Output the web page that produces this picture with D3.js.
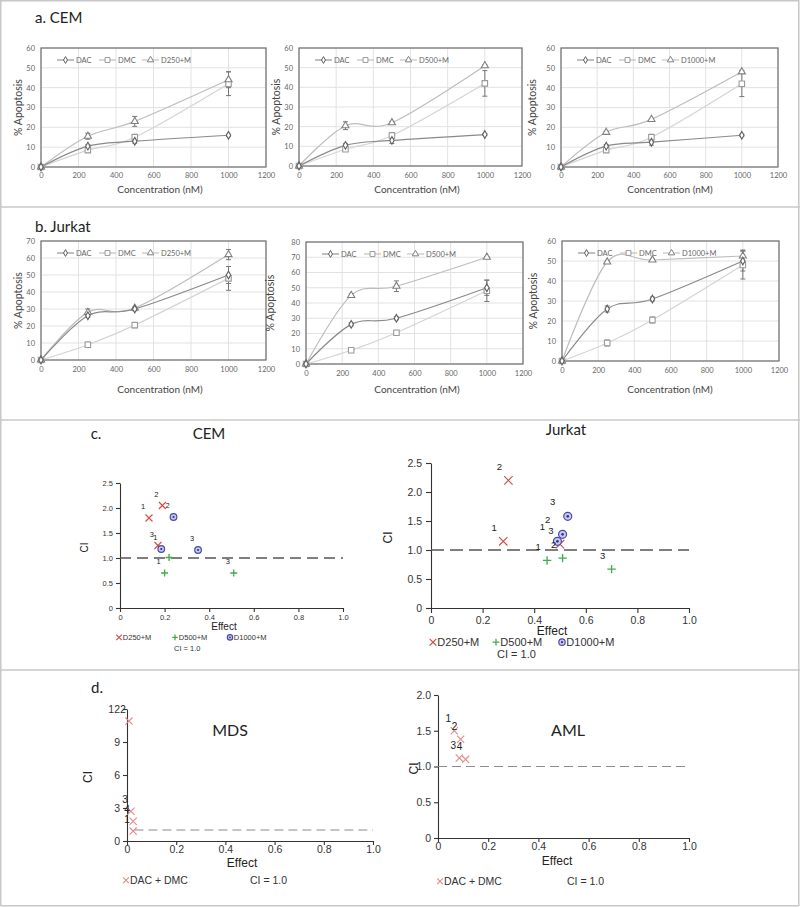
<!DOCTYPE html>
<html><head><meta charset="utf-8">
<script src="https://cdn.jsdelivr.net/npm/d3@7"></script>
<style>body{margin:0;background:#fff}</style>
</head><body>
<svg id="chart" width="800" height="907"></svg>
<script>
// ---------- DATA ----------
const concentrations = [0, 250, 500, 1000];
const concTicks = [0, 200, 400, 600, 800, 1000, 1200];

// a. CEM
const cemA_DAC = [0, 10.5, 13, 16],   cemA_DACerr = [0, 0.8, 1, 0.5];
const cemA_DMC = [0, 8.5, 15, 42],    cemA_DMCerr = [0, 1, 1.5, 6];
const cemA_D250 = [0, 15.5, 23, 44],  cemA_D250err = [0, 1.5, 2.5, 4];
const cemB_DAC = [0, 10.5, 13, 16],   cemB_DACerr = [0, 0.8, 1.5, 0.5];
const cemB_DMC = [0, 8.5, 15.5, 42],  cemB_DMCerr = [0, 1, 1.5, 6.5];
const cemB_D500 = [0, 20.5, 22, 51],  cemB_D500err = [0, 2, 0.5, 0.5];
const cemC_DAC = [0, 10.5, 12.5, 16], cemC_DACerr = [0, 0.8, 1.5, 0.5];
const cemC_DMC = [0, 8.5, 15, 42],    cemC_DMCerr = [0, 1, 1.5, 6.5];
const cemC_D1000 = [0, 17.5, 24, 48], cemC_D1000err = [0, 0.5, 0.5, 0.5];
// b. Jurkat
const jurA_DAC = [0, 26, 30, 50],     jurA_DACerr = [0, 1, 1, 5];
const jurA_DMC = [0, 9, 20.5, 48],    jurA_DMCerr = [0, 1.5, 1.5, 7];
const jurA_D250 = [0, 28, 30.5, 62],  jurA_D250err = [0, 2, 0.5, 3];
const jurB_DAC = [0, 26, 30, 50],     jurB_DACerr = [0, 1, 1, 5];
const jurB_DMC = [0, 9, 20.5, 48],    jurB_DMCerr = [0, 1.5, 1.5, 7];
const jurB_D500 = [0, 45, 51, 70],    jurB_D500err = [0, 1, 3.5, 0.5];
const jurC_DAC = [0, 26, 31, 50],     jurC_DACerr = [0, 1.5, 1, 5];
const jurC_DMC = [0, 9, 20.5, 48],    jurC_DMCerr = [0, 1.5, 1.5, 7];
const jurC_D1000 = [0, 49.5, 50.5, 52.5], jurC_D1000err = [0, 0.5, 0.5, 3];

// c. combination index (effect, CI, label)
const cemCI_D250 = [[0.13, 1.8, "1"], [0.19, 2.05, "2"], [0.17, 1.25, "3"]];
const cemCI_D500 = [[0.20, 0.70, "1"], [0.22, 1.01, ""], [0.51, 0.70, "3"]];
const cemCI_D1000 = [[0.185, 1.18, "1"], [0.24, 1.82, "2"], [0.35, 1.16, "3"]];
const jurCI_D250 = [[0.28, 1.15, "1"], [0.30, 2.2, "2"], [0.50, 1.1, "3"]];
const jurCI_D500 = [[0.45, 0.82, "1"], [0.51, 0.86, "2"], [0.70, 0.67, "3"]];
const jurCI_D1000 = [[0.49, 1.15, "1"], [0.51, 1.27, "2"], [0.53, 1.58, "3"]];
// d.
const mdsCI = [[0.008, 10.9, "2"], [0.016, 2.7, "3"], [0.025, 1.8, "4"], [0.025, 0.9, "1"]];
const amlCI = [[0.065, 1.5, "1"], [0.09, 1.38, "2"], [0.085, 1.12, "3"], [0.11, 1.1, "4"]];
const effectTicks = [0, 0.2, 0.4, 0.6, 0.8, 1.0];
const ciTicks = [0, 0.5, 1.0, 1.5, 2.0, 2.5];
const mdsTicks = [0, 3, 6, 9, 12];
const amlTicks = [0, 0.5, 1.0, 1.5, 2.0];

// ---------- DRAWING ----------
const svg = d3.select("#chart");
const LF = "Lato, 'Open Sans', sans-serif";
const AF = "'Liberation Sans', Arial, sans-serif";

svg.append("rect").attr("x", 0.75).attr("y", 0.75).attr("width", 798).attr("height", 905)
  .attr("fill", "none").attr("stroke", "#c8c8c8").attr("stroke-width", 1.5);
[207, 420, 670].forEach(yy => svg.append("line").attr("x1", 0).attr("x2", 800)
  .attr("y1", yy).attr("y2", yy).attr("stroke", "#c8c8c8").attr("stroke-width", 1.5));

function txt(x, y, s, o = {}) {
  const t = svg.append("text").attr("x", x).attr("y", y).text(s)
    .attr("font-family", o.f || LF).attr("font-size", o.size || 10)
    .attr("fill", o.fill || "#333").attr("text-anchor", o.anchor || "middle");
  if (o.rot) t.attr("transform", `rotate(-90,${x},${y})`);
  return t;
}

txt(35, 23, "a. CEM", { size: 15, anchor: "start", fill: "#222" });
txt(35, 232, "b. Jurkat", { size: 15, anchor: "start", fill: "#222" });

const styles = {
  DAC: { line: "#8a8a8a", mark: "#5e5e5e", sym: d3.symbolDiamond, size: 17 },
  DMC: { line: "#d4d4d4", mark: "#9a9a9a", sym: d3.symbolSquare, size: 30 },
  C:   { line: "#bdbdbd", mark: "#808080", sym: d3.symbolTriangle, size: 22 }
};

function linePanel(p) {
  const g = svg.append("g");
  const x = d3.scaleLinear().domain([0, 1200]).range([p.x0, p.x1]);
  const y = d3.scaleLinear().domain([0, p.ymax]).range([p.yb, p.yt]);
  const yTicks = d3.range(0, p.ymax + 1, 10);
  g.selectAll(".vg").data(concTicks).join("line").attr("x1", d => x(d)).attr("x2", d => x(d))
    .attr("y1", p.yb).attr("y2", p.yt).attr("stroke", "#e2e2e2");
  g.selectAll(".hg").data(yTicks).join("line").attr("y1", d => y(d)).attr("y2", d => y(d))
    .attr("x1", p.x0).attr("x2", p.x1).attr("stroke", "#e2e2e2");
  g.append("rect").attr("x", p.x0).attr("y", p.yt).attr("width", p.x1 - p.x0).attr("height", p.yb - p.yt)
    .attr("fill", "none").attr("stroke", "#6e6e6e").attr("stroke-width", 1.2);
  const ya = g.append("g").attr("transform", `translate(${p.x0},0)`)
    .call(d3.axisLeft(y).tickValues(yTicks).tickSize(0).tickPadding(6).tickFormat(d3.format("d")));
  const xa = g.append("g").attr("transform", `translate(0,${p.yb})`)
    .call(d3.axisBottom(x).tickValues(concTicks).tickSize(0).tickPadding(p.xpad).tickFormat(d3.format("d")));
  [ya, xa].forEach(a => { a.select(".domain").remove();
    a.selectAll("text").attr("font-family", LF).attr("font-size", 7.5).attr("fill", "#666"); });

  const sers = [
    { k: "DAC", v: p.dac, e: p.dacE, name: "DAC" },
    { k: "DMC", v: p.dmc, e: p.dmcE, name: "DMC" },
    { k: "C", v: p.c, e: p.cE, name: p.cName }
  ];
  const line = d3.line().x((d, i) => x(concentrations[i])).y(d => y(d)).curve(d3.curveCardinal.tension(0));
  [sers[1], sers[2], sers[0]].forEach(s => {
    g.append("path").attr("d", line(s.v)).attr("fill", "none")
      .attr("stroke", styles[s.k].line).attr("stroke-width", 1.2);
  });
  sers.forEach(s => {
    s.v.forEach((v, i) => {
      const e = s.e[i];
      if (e > 0) {
        const cx = x(concentrations[i]);
        g.append("line").attr("x1", cx).attr("x2", cx).attr("y1", y(v - e)).attr("y2", y(v + e))
          .attr("stroke", "#777").attr("stroke-width", 1);
        [v - e, v + e].forEach(w => g.append("line").attr("x1", cx - 2.5).attr("x2", cx + 2.5)
          .attr("y1", y(w)).attr("y2", y(w)).attr("stroke", "#777").attr("stroke-width", 1));
      }
    });
  });
  [sers[1], sers[2], sers[0]].forEach(s => {
    const st = styles[s.k];
    g.selectAll(null).data(s.v).join("path")
      .attr("transform", (d, i) => `translate(${x(concentrations[i])},${y(d)})`)
      .attr("d", d3.symbol(st.sym, st.size)).attr("fill", "#fff")
      .attr("stroke", st.mark).attr("stroke-width", 1.1);
  });
  const ly = p.yt + 12;
  const lx = [p.x0 + 16, p.x0 + 58, p.x0 + 101];
  sers.forEach((s, i) => {
    const st = styles[s.k];
    g.append("line").attr("x1", lx[i]).attr("x2", lx[i] + 17).attr("y1", ly).attr("y2", ly)
      .attr("stroke", st.line === "#d4d4d4" ? "#bbb" : st.line).attr("stroke-width", 1.1);
    g.append("path").attr("transform", `translate(${lx[i] + 8.5},${ly})`)
      .attr("d", d3.symbol(st.sym, st.size * 0.8)).attr("fill", "#fff").attr("stroke", st.mark);
    txt(lx[i] + 19, ly + 2.8, s.name, { size: 7.5, anchor: "start", fill: "#666" });
  });
  txt(p.ylx, (p.yt + p.yb) / 2, "% Apoptosis", { size: 10.5, rot: true, fill: "#444" });
  txt(p.xlx, p.xly, "Concentration (nM)", { size: 10, fill: "#444" });
}

linePanel({ x0: 41, x1: 266, yt: 48, yb: 167, ymax: 60, xpad: 6, dac: cemA_DAC, dacE: cemA_DACerr,
  dmc: cemA_DMC, dmcE: cemA_DMCerr, c: cemA_D250, cE: cemA_D250err, cName: "D250+M", ylx: 22, xlx: 160, xly: 193 });
linePanel({ x0: 299, x1: 522, yt: 48, yb: 166, ymax: 60, xpad: 7, dac: cemB_DAC, dacE: cemB_DACerr,
  dmc: cemB_DMC, dmcE: cemB_DMCerr, c: cemB_D500, cE: cemB_D500err, cName: "D500+M", ylx: 280, xlx: 417, xly: 193 });
linePanel({ x0: 561, x1: 778, yt: 48, yb: 167, ymax: 60, xpad: 6, dac: cemC_DAC, dacE: cemC_DACerr,
  dmc: cemC_DMC, dmcE: cemC_DMCerr, c: cemC_D1000, cE: cemC_D1000err, cName: "D1000+M", ylx: 536, xlx: 670, xly: 193 });
linePanel({ x0: 41, x1: 266, yt: 241, yb: 360, ymax: 70, xpad: 7, dac: jurA_DAC, dacE: jurA_DACerr,
  dmc: jurA_DMC, dmcE: jurA_DMCerr, c: jurA_D250, cE: jurA_D250err, cName: "D250+M", ylx: 22, xlx: 160, xly: 393 });
linePanel({ x0: 306, x1: 523, yt: 242, yb: 364, ymax: 80, xpad: 7, dac: jurB_DAC, dacE: jurB_DACerr,
  dmc: jurB_DMC, dmcE: jurB_DMCerr, c: jurB_D500, cE: jurB_D500err, cName: "D500+M", ylx: 274, xlx: 417, xly: 393 });
linePanel({ x0: 562, x1: 779, yt: 241, yb: 361, ymax: 60, xpad: 7, dac: jurC_DAC, dacE: jurC_DACerr,
  dmc: jurC_DMC, dmcE: jurC_DMCerr, c: jurC_D1000, cE: jurC_D1000err, cName: "D1000+M", ylx: 537, xlx: 670, xly: 393 });

// ---------- scatter (CI) ----------
const mk = {
  x: (g, cx, cy, r, col) => { g.append("path").attr("d", `M${cx - r},${cy - r}L${cx + r},${cy + r}M${cx - r},${cy + r}L${cx + r},${cy - r}`)
      .attr("stroke", col).attr("stroke-width", 1.1).attr("fill", "none"); },
  p: (g, cx, cy, r, col) => { g.append("path").attr("d", `M${cx - r},${cy}L${cx + r},${cy}M${cx},${cy - r}L${cx},${cy + r}`)
      .attr("stroke", col).attr("stroke-width", 1.3).attr("fill", "none"); },
  o: (g, cx, cy, r, col) => { g.append("circle").attr("cx", cx).attr("cy", cy).attr("r", r * 0.95)
      .attr("fill", "#c9c9ef").attr("stroke", col).attr("stroke-width", 1.2);
    g.append("circle").attr("cx", cx).attr("cy", cy).attr("r", r * 0.32).attr("fill", "#33337a"); }
};
const RED = "#d24b45", GREEN = "#3fae49", BLUE = "#4a4aa6", PINK = "#e58a8a";

function scatter(p) {
  const g = svg.append("g");
  const x = d3.scaleLinear().domain([0, 1]).range([p.x0, p.x1]);
  const y = d3.scaleLinear().domain([0, p.ymax]).range([p.yb, p.yt]);
  const ya = g.append("g").attr("transform", `translate(${p.x0},0)`)
    .call(d3.axisLeft(y).tickValues(p.yTicks).tickSize(p.tick).tickPadding(p.pad).tickSizeOuter(0)
      .tickFormat(p.yfmt));
  const xa = g.append("g").attr("transform", `translate(0,${p.yb})`)
    .call(d3.axisBottom(x).tickValues(effectTicks).tickSize(p.tick).tickPadding(p.xpad).tickSizeOuter(0)
      .tickFormat(d => d === 0 ? "0" : d3.format(".1f")(d)));
  [ya, xa].forEach(a => {
    a.selectAll("path,line").attr("stroke", "#333").attr("stroke-width", 1.1);
    a.selectAll("text").attr("font-family", AF).attr("font-size", p.fs).attr("fill", "#333");
  });
  g.append("line").attr("x1", x(p.dashFrom)).attr("x2", p.x1).attr("y1", y(1)).attr("y2", y(1))
    .attr("stroke", p.dashCol).attr("stroke-width", p.dashW).attr("stroke-dasharray", p.dash);
  p.sets.forEach(s => {
    const lo = s.lo || p.lo;
    s.data.forEach(d => {
      const cx = x(d[0]), cy = y(d[1]);
      mk[s.m](g, cx, cy, p.r, s.col);
      if (d[2]) txt(cx - lo[0], cy - lo[1], d[2], { f: AF, size: p.lfs, fill: "#222" });
    });
  });
  txt(p.elx, p.ely, "Effect", { f: AF, size: p.efs, fill: "#222" });
  txt(p.cix, (p.yt + p.yb) / 2 + 2, "CI", { f: AF, size: p.efs, fill: "#222", rot: true });
  p.legend.forEach(l => {
    mk[l.m](g, l.x, l.y - p.legfs * 0.35, p.r * 0.8, l.col);
    txt(l.x + p.r * 0.8 + 1, l.y, l.t, { f: AF, size: p.legfs, anchor: "start", fill: "#333" });
  });
  txt(p.cilx, p.cily, "CI = 1.0", { f: AF, size: p.legfs, anchor: "start", fill: "#333" });
}

const f1 = d => d === 0 ? "0" : d3.format(".1f")(d);

txt(96, 439, "c.", { size: 15, fill: "#222" });
txt(209, 439, "CEM", { size: 15, fill: "#222" });
txt(566, 435, "Jurkat", { size: 15, fill: "#222" });

scatter({ x0: 120, x1: 343, yb: 608, yt: 483, ymax: 2.5, yTicks: ciTicks, yfmt: f1, tick: 4, pad: 3, xpad: 3, fs: 7.5,
  dashFrom: 0, dashCol: "#555", dashW: 1.3, dash: "11,6", r: 3.5, lfs: 7.5, lo: [6, 9],
  sets: [{ m: "x", col: RED, data: cemCI_D250 }, { m: "p", col: GREEN, data: cemCI_D500 }, { m: "o", col: BLUE, data: cemCI_D1000 }],
  elx: 224, ely: 630, efs: 10, cix: 88, legfs: 7.5,
  legend: [{ m: "x", col: RED, x: 119, y: 640, t: "D250+M" }, { m: "p", col: GREEN, x: 175, y: 640, t: "D500+M" },
    { m: "o", col: BLUE, x: 230, y: 640, t: "D1000+M" }], cilx: 174, cily: 651 });

scatter({ x0: 431, x1: 689, yb: 608, yt: 463, ymax: 2.5, yTicks: ciTicks, yfmt: f1, tick: 5, pad: 4, xpad: 4, fs: 10.5,
  dashFrom: 0, dashCol: "#555", dashW: 1.4, dash: "13,6", r: 4.2, lfs: 9.5, lo: [9, 10],
  sets: [{ m: "x", col: RED, data: jurCI_D250 }, { m: "p", col: GREEN, data: jurCI_D500 },
    { m: "o", col: BLUE, data: jurCI_D1000, lo: [15, 11] }],
  elx: 552, ely: 635, efs: 12, cix: 392, legfs: 11,
  legend: [{ m: "x", col: RED, x: 433, y: 646, t: "D250+M" }, { m: "p", col: GREEN, x: 496, y: 646, t: "D500+M" },
    { m: "o", col: BLUE, x: 562, y: 646, t: "D1000+M" }], cilx: 497, cily: 658 });

// ---------- d ----------
txt(97, 693, "d.", { size: 15, fill: "#222" });
txt(230, 736, "MDS", { size: 16, fill: "#222" });
txt(568, 736, "AML", { size: 16, fill: "#222" });

scatter({ x0: 127, x1: 373, yb: 841, yt: 709, ymax: 12, yTicks: mdsTicks, yfmt: d3.format("d"), tick: 4, pad: 3, xpad: 1, fs: 10.5,
  dashFrom: 0.03, dashCol: "#8c8c8c", dashW: 1.2, dash: "9,5", r: 3.6, lfs: 10, lo: [6, 8],
  sets: [{ m: "x", col: PINK, data: mdsCI }],
  elx: 242, ely: 867, efs: 12, cix: 92, legfs: 10.5,
  legend: [{ m: "x", col: PINK, x: 126, y: 884, t: "DAC + DMC" }], cilx: 250, cily: 884 });

scatter({ x0: 438, x1: 689, yb: 838, yt: 695, ymax: 2, yTicks: amlTicks, yfmt: f1, tick: 4, pad: 3, xpad: 1, fs: 10.5,
  dashFrom: 0, dashCol: "#8c8c8c", dashW: 1.2, dash: "9,5", r: 3.6, lfs: 10, lo: [6, 9],
  sets: [{ m: "x", col: PINK, data: amlCI }],
  elx: 557, ely: 865, efs: 12, cix: 418, legfs: 10.5,
  legend: [{ m: "x", col: PINK, x: 440, y: 885, t: "DAC + DMC" }], cilx: 567, cily: 885 });
</script>
</body></html>
